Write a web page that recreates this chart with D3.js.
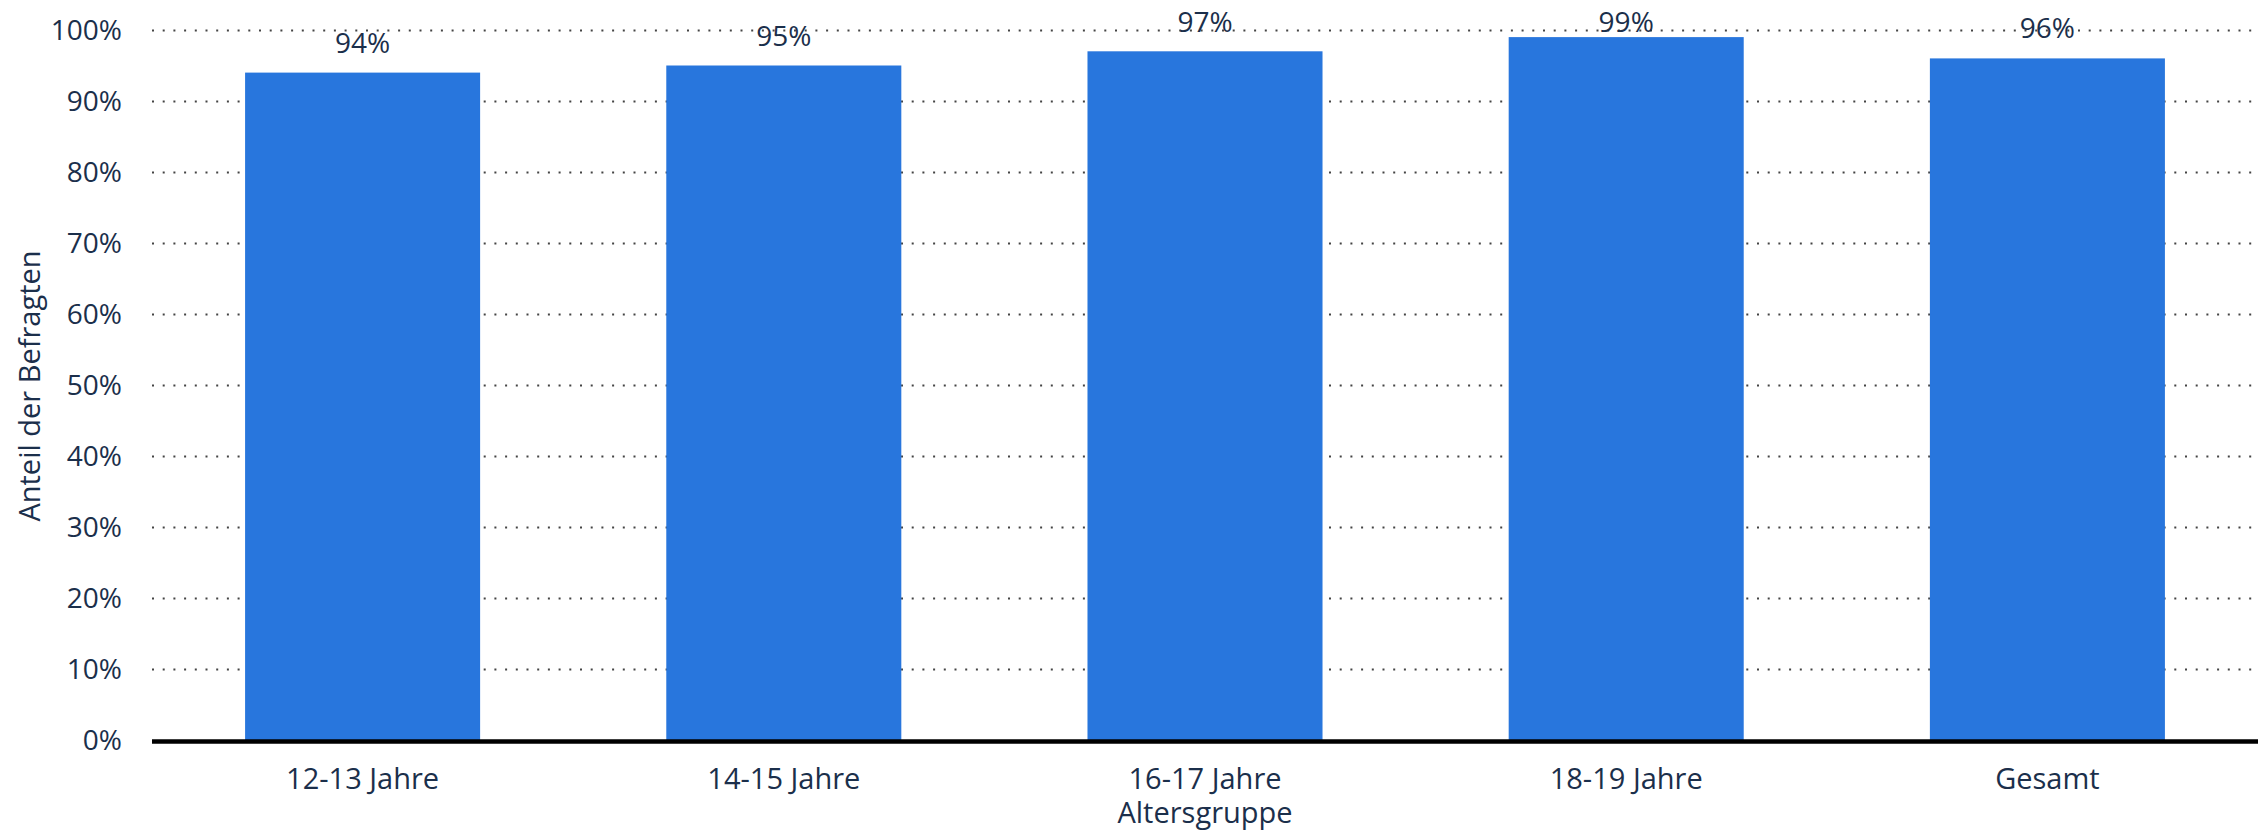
<!DOCTYPE html>
<html><head><meta charset="utf-8">
<script src="https://cdn.jsdelivr.net/npm/d3@7"></script>
<style>body{margin:0;background:#fff;}svg{display:block;font-family:"Open Sans",sans-serif;}</style>
</head><body>
<svg id="c" width="2266" height="833"></svg>
<script>
const categories = ["12-13 Jahre","14-15 Jahre","16-17 Jahre","18-19 Jahre","Gesamt"];
const values = [94,95,97,99,96];
const yTicks = [0,10,20,30,40,50,60,70,80,90,100];
const yTitle = "Anteil der Befragten";
const xTitle = "Altersgruppe";

const svg = d3.select("#c");
const L = 152, R = 2258, T = 30, B = 740;
const x = d3.scaleBand().domain(categories).range([L,R]).paddingInner(0.442).paddingOuter(0.221);
const y = d3.scaleLinear().domain([0,100]).range([B,T]);
const txt = "#1b2f4b";

// grid
svg.append("g").selectAll("line").data(yTicks.filter(d=>d>0)).join("line")
  .attr("x1",L).attr("x2",R).attr("y1",d=>y(d)+0.5).attr("y2",d=>y(d)+0.5)
  .attr("stroke","#444").attr("stroke-width",2).attr("stroke-dasharray","2,8.7");

// y axis labels
const yAxis = d3.axisLeft(y).tickValues(yTicks).tickFormat(d=>d+"%").tickSize(0).tickPadding(0);
const gy = svg.append("g").attr("transform",`translate(122,0)`).call(yAxis);
gy.select(".domain").remove();
gy.selectAll("text").attr("fill",txt).style("font-size","28px").style("font-family","'Open Sans'").attr("dy","0.35em");

// bars
svg.append("g").selectAll("rect").data(values).join("rect")
  .attr("x",(d,i)=>x(categories[i])).attr("width",x.bandwidth())
  .attr("y",d=>y(d)).attr("height",d=>B-y(d)).attr("fill","#2876dd");

// value labels (kept inside the top edge)
svg.append("g").selectAll("text").data(values).join("text")
  .attr("x",(d,i)=>x(categories[i])+x.bandwidth()/2).attr("y",d=>Math.max(y(d)-20, 31.5))
  .attr("text-anchor","middle").attr("fill",txt).style("font-size","28px").text(d=>d+"%");

// x axis
const xAxis = d3.axisBottom(x).tickSize(0).tickPadding(0);
const gx = svg.append("g").attr("transform",`translate(0,${B})`).call(xAxis);
gx.select(".domain").remove();
gx.selectAll("text").attr("fill",txt).style("font-size","29px").style("font-family","'Open Sans'").attr("dy","0").attr("y",49);
svg.append("line").attr("x1",L).attr("x2",R).attr("y1",B+1.5).attr("y2",B+1.5).attr("stroke","#000").attr("stroke-width",4.5);

// titles
svg.append("text").attr("x",(L+R)/2).attr("y",823).attr("text-anchor","middle").attr("fill",txt).style("font-size","29px").text(xTitle);
svg.append("text").attr("transform",`translate(40,386) rotate(-90)`).attr("text-anchor","middle").attr("fill",txt).style("font-size","29px").text(yTitle);
</script>
</body></html>
